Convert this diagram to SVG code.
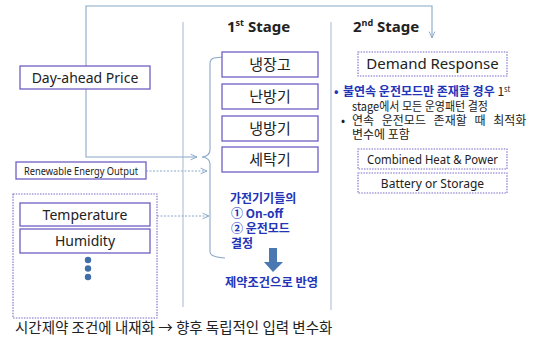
<svg xmlns="http://www.w3.org/2000/svg" width="536" height="341" viewBox="0 0 536 341">
<defs>
<style>
text{font-family:"Noto Sans","Noto Sans CJK KR",sans-serif;fill:#222}
.kr{font-family:"Noto Sans CJK KR","Noto Sans",sans-serif}
.box{fill:#fff;stroke:#6f5fc4;stroke-width:1.3}
.dbox{fill:#fff;stroke:#7a6cc9;stroke-width:1.1;stroke-dasharray:1.5 1.2}
.conn{fill:none;stroke:#8aa8c8;stroke-width:1.1}
.dconn{fill:none;stroke:#8aa8c8;stroke-width:1;stroke-dasharray:2 1.5}
.div{fill:none;stroke:#a5b8d0;stroke-width:1}
.blue{fill:#2234b8;font-weight:bold}
</style>
<marker id="ah" viewBox="0 0 10 10" refX="9" refY="5" markerWidth="8" markerHeight="8" orient="auto" markerUnits="userSpaceOnUse">
<path d="M1,1.5 L9,5 L1,8.5" fill="none" stroke="#8aa8c8" stroke-width="1.2"/>
</marker>
</defs>
<rect width="536" height="341" fill="#fff"/>

<g id="dividers">
<line class="div" x1="183" y1="22" x2="183" y2="307"/>
<line class="div" x1="331" y1="22" x2="331" y2="310"/>
</g>

<g id="stage1-title">
<text x="227" y="32" font-size="15" font-weight="bold">1<tspan font-size="9" dy="-6">st</tspan><tspan dy="6"> Stage</tspan></text>
</g>
<g id="stage2-title">
<text x="353" y="32" font-size="15" font-weight="bold">2<tspan font-size="9" dy="-6">nd</tspan><tspan dy="6"> Stage</tspan></text>
</g>

<g id="connectors">
<path class="conn" d="M86,66 V6 H432 V38" marker-end="url(#ah)"/>
<path class="conn" d="M86,89 V157 H197" marker-end="url(#ah)"/>
<path class="dconn" d="M146,171 H207" marker-end="url(#ah)"/>
<path class="dconn" d="M157,216 H209" marker-end="url(#ah)"/>
<path class="conn" d="M223,57 L214,58 Q210,59 210,64 L210,150 Q210,156 202,157 Q210,158 210,164 L210,252 Q210,257 225,258"/>
</g>

<g id="day-ahead">
<rect class="box" x="20" y="66" width="130" height="23"/>
<text x="85" y="82.5" font-size="14" text-anchor="middle">Day-ahead Price</text>
</g>

<g id="renewable">
<rect class="box" x="16" y="162" width="130" height="17"/>
<text x="81" y="174.5" font-size="10" text-anchor="middle" textLength="114" lengthAdjust="spacingAndGlyphs">Renewable Energy Output</text>
</g>

<g id="env-group">
<rect class="dbox" x="13" y="194" width="144" height="124"/>
</g>
<g id="temperature">
<rect class="box" x="20" y="203" width="130" height="23"/>
<text x="85" y="219.5" font-size="14" text-anchor="middle">Temperature</text>
</g>
<g id="humidity">
<rect class="box" x="20" y="229" width="130" height="24"/>
<text x="85" y="246" font-size="14" text-anchor="middle">Humidity</text>
</g>
<g id="ellipsis" fill="#3f6ea8">
<circle cx="88" cy="260" r="3.2"/>
<circle cx="88" cy="268.5" r="3.2"/>
<circle cx="88" cy="277" r="3.2"/>
</g>

<g id="fridge">
<rect class="box" x="222" y="52" width="96" height="25"/>
<text class="kr" x="270" y="70" font-size="15" text-anchor="middle">냉장고</text>
</g>
<g id="heater">
<rect class="box" x="222" y="84" width="96" height="25"/>
<text class="kr" x="270" y="102" font-size="15" text-anchor="middle">난방기</text>
</g>
<g id="cooler">
<rect class="box" x="222" y="116" width="96" height="25"/>
<text class="kr" x="270" y="134" font-size="15" text-anchor="middle">냉방기</text>
</g>
<g id="washer">
<rect class="box" x="222" y="147" width="96" height="25"/>
<text class="kr" x="270" y="165" font-size="15" text-anchor="middle">세탁기</text>
</g>

<g id="appliance-note">
<text class="kr blue" x="230" y="203" font-size="12">가전기기들의</text>
<text class="kr blue" x="231" y="218" font-size="12">① On-off</text>
<text class="kr blue" x="231" y="233" font-size="12">② 운전모드</text>
<text class="kr blue" x="231" y="248" font-size="12">결정</text>
</g>
<g id="down-arrow">
<path d="M269,248 H277 V262 H283 L273,272 L264,262 H269 Z" fill="#4a78b0"/>
</g>
<g id="constraint">
<text class="kr blue" x="225" y="287" font-size="12" textLength="93" lengthAdjust="spacingAndGlyphs">제약조건으로 반영</text>
</g>

<g id="demand-response">
<rect class="dbox" x="358" y="52" width="149" height="24"/>
<text x="432.5" y="69" font-size="15" text-anchor="middle">Demand Response</text>
</g>

<g id="dr-notes" font-size="12">
<text class="kr" x="334" y="96" style="fill:#2234b8" font-weight="bold">•</text>
<text class="kr" x="343" y="96"><tspan font-weight="bold" style="fill:#2234b8">불연속 운전모드만 존재할 경우</tspan> 1<tspan font-size="7.5" dy="-4">st</tspan></text>
<text class="kr" x="352" y="111" textLength="136" lengthAdjust="spacingAndGlyphs">stage에서 모든 운영패턴 결정</text>
<text class="kr" x="341" y="125">•</text>
<text class="kr" x="352" y="125" word-spacing="5">연속 운전모드 존재할 때 최적화</text>
<text class="kr" x="352" y="139">변수에 포함</text>
</g>

<g id="chp">
<rect class="dbox" x="358" y="149" width="149" height="20"/>
<text x="432.5" y="163.5" font-size="12" text-anchor="middle" textLength="131" lengthAdjust="spacingAndGlyphs">Combined Heat &amp; Power</text>
</g>
<g id="battery">
<rect class="dbox" x="358" y="173" width="149" height="20"/>
<text x="432.5" y="187.5" font-size="12" text-anchor="middle">Battery or Storage</text>
</g>

<g id="footer">
<text class="kr" x="15" y="333" font-size="14.5">시간제약 조건에 내재화 → 향후 독립적인 입력 변수화</text>
</g>
</svg>
